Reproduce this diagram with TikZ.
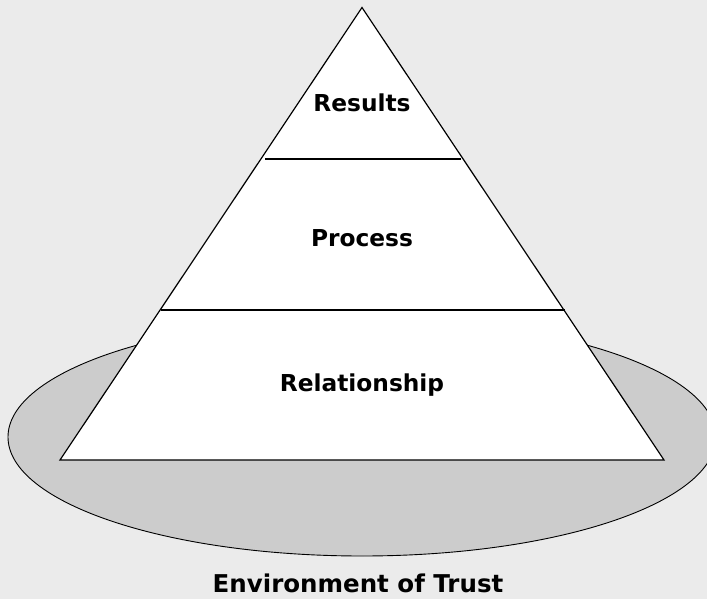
\documentclass[tikz,border=0pt]{standalone}
\usepackage{fontspec}
\setmainfont{DejaVu Sans}
\begin{document}
\begin{tikzpicture}[x=1pt,y=-1pt,
  label/.style={font=\bfseries\fontsize{23.3}{28}\selectfont, anchor=base, inner sep=0pt},
  caption/.style={font=\bfseries\fontsize{24.5}{29}\selectfont, anchor=base, inner sep=0pt},
  tier/.style={line width=2pt, draw=black}]
  % canvas
  \fill[fill={rgb,255:red,235;green,235;blue,235}] (0,0) rectangle (707,599);
  \useasboundingbox (0,0) rectangle (707,599);
  % base ellipse
  \begin{scope}
    \clip (0,0) rectangle (707,599);
    \filldraw[fill={rgb,255:red,204;green,204;blue,204}, draw=black, line width=0.9pt]
      (362,437) ellipse [x radius=354, y radius=119];
  \end{scope}
  % pyramid
  \coordinate (apex) at (362,7.5);
  \coordinate (bl) at (60,460);
  \coordinate (br) at (664,460);
  \filldraw[fill=white, draw=black, line width=1.2pt, line join=miter] (apex) -- (br) -- (bl) -- cycle;
  % tier dividers
  \coordinate (d1l) at (265,159);
  \coordinate (d1r) at (461,159);
  \coordinate (d2l) at (161,310);
  \coordinate (d2r) at (565,310);
  \draw[tier] (d1l) -- (d1r);
  \draw[tier] (d2l) -- (d2r);
  % labels
  \node[label] (results) at (362,112) {Results};
  \node[label] (process) at (362,246) {Process};
  \node[label] (relationship) at (362,391) {Relationship};
  \node[caption] (trust) at (358,592.5) {Environment of Trust};
\end{tikzpicture}
\end{document}
